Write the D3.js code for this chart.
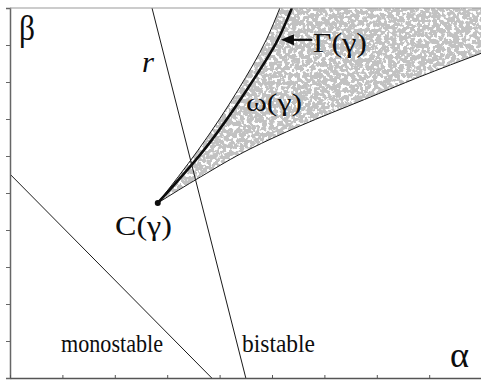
<!DOCTYPE html>
<html>
<head>
<meta charset="utf-8">
<script src="https://cdn.jsdelivr.net/npm/d3@7"></script>
<style>
  body { margin: 0; background: #fff; }
  svg text { font-family: "Liberation Serif", "DejaVu Serif", serif; fill: #0d0d0d; }
</style>
</head>
<body>
<div id="chart"></div>
<script>
// ----------------------------------------------------------------------
// DATA (alpha, beta)
// ----------------------------------------------------------------------
const xTicks = [0, 1, 2, 3, 4, 5, 6, 7, 8, 9];
const yTicks = [0, 1, 2, 3, 4, 5, 6, 7, 8, 9, 10];

// cusp point C(gamma)
const cuspPoint = [2.82, 4.73];

// line r
const lineR = [[2.71, 10.0], [4.50, 0.0]];

// lower-left boundary line
const lineMono = [[0.0, 5.51], [3.85, 0.0]];

// Gamma(gamma) curve (thick)
const gammaCurve = [
  [2.82, 4.73], [3.70, 6.16], [4.58, 7.92], [5.11, 9.14], [5.38, 10.0]
];

// omega(gamma) region : left boundary and lower boundary
const omegaLeft = [
  [2.82, 4.73], [3.59, 6.16], [4.35, 7.78], [4.89, 9.14], [5.15, 10.0]
];
const omegaLower = [
  [2.82, 4.73], [3.63, 5.43], [4.58, 6.19], [5.53, 6.81], [6.77, 7.53],
  [7.82, 8.14], [9.0, 8.78]
];

// ----------------------------------------------------------------------
// LAYOUT
// ----------------------------------------------------------------------
const width = 481, height = 380;
const margin = { top: 8, right: 0, bottom: 2, left: 10 };

const svg = d3.select("#chart").append("svg")
  .attr("width", width)
  .attr("height", height);

const x = d3.scaleLinear().domain([0, 9]).range([margin.left, margin.left + 9 * 52.4]);
const y = d3.scaleLinear().domain([0, 10]).range([height - margin.bottom, margin.top]);

const line = d3.line().x(d => x(d[0])).y(d => y(d[1]));
const curve = d3.line().x(d => x(d[0])).y(d => y(d[1])).curve(d3.curveMonotoneY);

const defs = svg.append("defs");

// speckle texture for the omega region
const filt = defs.append("filter").attr("id", "speckle")
  .attr("x", 0).attr("y", 0).attr("width", "100%").attr("height", "100%");
filt.append("feTurbulence")
  .attr("type", "fractalNoise").attr("baseFrequency", 0.27)
  .attr("numOctaves", 2).attr("seed", 7).attr("result", "noise");
filt.append("feColorMatrix").attr("in", "noise").attr("type", "matrix")
  .attr("values", "0 0 0 0 1  0 0 0 0 1  0 0 0 0 1  14 0 0 0 -7.5");

// omega region polygon: lower boundary -> right edge -> top -> left boundary back
const lowerPath = curve(omegaLower);
const leftPathRev = curve(omegaLeft.slice().reverse());
const regionD = lowerPath
  + `L${x(9.2)},${y(omegaLower[omegaLower.length - 1][1])}`
  + `L${x(9.2)},${y(10.2)}L${x(omegaLeft[omegaLeft.length - 1][0])},${y(10.2)}`
  + "L" + leftPathRev.slice(1) + "Z";

defs.append("clipPath").attr("id", "omegaClip")
  .append("path").attr("d", regionD);

defs.append("clipPath").attr("id", "plotClip")
  .append("rect")
  .attr("x", x(0)).attr("y", y(10))
  .attr("width", x(9) - x(0)).attr("height", y(0) - y(10));

const plot = svg.append("g").attr("clip-path", "url(#plotClip)");

const region = plot.append("g").attr("clip-path", "url(#omegaClip)");
region.append("rect")
  .attr("x", x(0)).attr("y", y(10))
  .attr("width", x(9) - x(0)).attr("height", y(0) - y(10))
  .attr("fill", "#c2c2c2");
region.append("rect")
  .attr("x", x(0)).attr("y", y(10))
  .attr("width", x(9) - x(0)).attr("height", y(0) - y(10))
  .attr("filter", "url(#speckle)");

// boundary lines
plot.append("path").attr("d", curve(omegaLeft))
  .attr("fill", "none").attr("stroke", "#1a1a1a").attr("stroke-width", 1);
plot.append("path").attr("d", lowerPath)
  .attr("fill", "none").attr("stroke", "#1a1a1a").attr("stroke-width", 1);
plot.append("path").attr("d", curve(gammaCurve))
  .attr("fill", "none").attr("stroke", "#0d0d0d").attr("stroke-width", 2.6);

plot.append("path").attr("d", line(lineR))
  .attr("fill", "none").attr("stroke", "#1a1a1a").attr("stroke-width", 1);
plot.append("path").attr("d", line(lineMono))
  .attr("fill", "none").attr("stroke", "#1a1a1a").attr("stroke-width", 1);

// cusp point
plot.append("circle")
  .attr("cx", x(cuspPoint[0])).attr("cy", y(cuspPoint[1]))
  .attr("r", 3).attr("fill", "#0d0d0d");

// ----------------------------------------------------------------------
// AXES
// ----------------------------------------------------------------------
svg.append("g")
  .attr("transform", `translate(${x(0)},0)`)
  .call(d3.axisLeft(y).tickValues(yTicks).tickSize(4).tickFormat(""))
  .call(g => g.select(".domain").attr("stroke", "#666").attr("stroke-width", 1.5))
  .call(g => g.selectAll(".tick line").attr("stroke", "#666"));

svg.append("g")
  .attr("transform", `translate(0,${y(0)})`)
  .call(d3.axisBottom(x).tickValues(xTicks).tickSize(-3).tickSizeOuter(0).tickFormat(""))
  .call(g => g.select(".domain").attr("stroke", "#555").attr("stroke-width", 1.5))
  .call(g => g.selectAll(".tick line").attr("stroke", "#555"));

// top border
svg.append("line")
  .attr("x1", x(0)).attr("x2", x(9))
  .attr("y1", y(10)).attr("y2", y(10))
  .attr("stroke", "#999").attr("stroke-width", 1);

// ----------------------------------------------------------------------
// ARROW + LABELS
// ----------------------------------------------------------------------
const arrowY = 9.14;
svg.append("line")
  .attr("x1", x(5.77)).attr("x2", x(5.3))
  .attr("y1", y(arrowY)).attr("y2", y(arrowY))
  .attr("stroke", "#0d0d0d").attr("stroke-width", 2.2);
svg.append("path")
  .attr("d", `M${x(5.17)},${y(arrowY)} l13,-5.5 l0,11 Z`)
  .attr("fill", "#0d0d0d");

const label = (txt, px, py, size, len, italic) => svg.append("text")
  .attr("x", px).attr("y", py)
  .attr("textLength", len)
  .attr("lengthAdjust", "spacingAndGlyphs")
  .style("font-size", size + "px")
  .style("font-style", italic ? "italic" : "normal")
  .text(txt);

label("β", 19, 40, 35, 16);
label("r", 142, 72, 30, 12, true);
label("Γ(γ)", 313, 52, 27, 54);
label("ω(γ)", 246, 111, 25, 56);
label("C(γ)", 115, 235, 28, 57);
label("monostable", 61, 352, 25, 102);
label("bistable", 242, 352, 25, 73);
label("α", 450, 367, 35, 19);
</script>
</body>
</html>
